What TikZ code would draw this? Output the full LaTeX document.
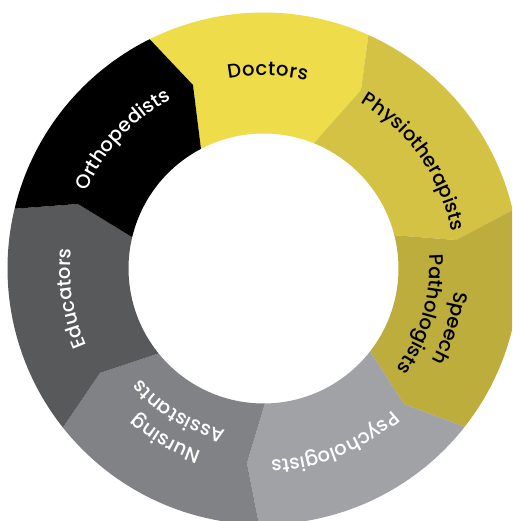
\documentclass[tikz,border=0pt]{standalone}
\usepackage{fontspec}
\newfontfamily\lblfam{Poppins Medium}
\usetikzlibrary{decorations.text}
\definecolor{cDoc}{HTML}{EEDC4B}
\definecolor{cPhy}{HTML}{D4C244}
\definecolor{cSpe}{HTML}{BCAD3D}
\definecolor{cPsy}{HTML}{A1A2A5}
\definecolor{cNur}{HTML}{808285}
\definecolor{cEdu}{HTML}{58595B}
\definecolor{cOrt}{HTML}{000000}
\newcommand\lblfont{\lblfam\fontsize{19.5}{20}\selectfont}
\begin{document}
\begin{tikzpicture}[x=1pt,y=1pt,
  seg/.style={draw=none},
  lbl/.style={decorate, decoration={text along path, text align=fit to path, text={|\lblfont|#1}}},
  lblw/.style={decorate, decoration={text along path, text align=fit to path, text={|\lblfont\color{white}|#1}}}]
\useasboundingbox (-263.5,-252.5) rectangle (248.5,268.5);
\fill[white] (-263.5,-252.5) rectangle (248.5,268.5);
\clip (-263.5,-252.5) rectangle (248.5,268.5);
% kinks
\coordinate (K1) at (-70.5,183.5);
\coordinate (K2) at (97.5,178.5);
\coordinate (K3) at (192.5,28.5);
\coordinate (K4) at (140.5,-135.5);
\coordinate (K5) at (-16.5,-194.5);
\coordinate (K6) at (-163.5,-104.5);
\coordinate (K7) at (-185.5,64.5);
% segments
\fill[seg, cDoc] (68.1:135pt) -- (K2) -- (65.8:256pt) arc[start angle=65.8, end angle=116.4, radius=256pt] -- (K1) -- (117.6:135pt) arc[start angle=117.6, end angle=68.1, radius=135pt] -- cycle;
\fill[seg, cPhy] (14.3:135pt) -- (K3) -- (13.2:256pt) arc[start angle=13.2, end angle=65.8, radius=256pt] -- (K2) -- (68.1:135pt) arc[start angle=68.1, end angle=14.3, radius=135pt] -- cycle;
\fill[seg, cSpe] (-37.8:135pt) -- (K4) -- (-38.2:256pt) arc[start angle=-38.2, end angle=13.2, radius=256pt] -- (K3) -- (14.3:135pt) arc[start angle=14.3, end angle=-37.8, radius=135pt] -- cycle;
\fill[seg, cPsy] (-89.4:135pt) -- (K5) -- (-91:256pt) arc[start angle=-91, end angle=-38.2, radius=256pt] -- (K4) -- (-37.8:135pt) arc[start angle=-37.8, end angle=-89.4, radius=135pt] -- cycle;
\fill[seg, cNur] (-141:135pt) -- (K6) -- (-141.6:256pt) arc[start angle=-141.6, end angle=-91, radius=256pt] -- (K5) -- (-89.4:135pt) arc[start angle=-89.4, end angle=-141, radius=135pt] -- cycle;
\fill[seg, cEdu] (-193.4:135pt) -- (K7) -- (-193.5:256pt) arc[start angle=-193.5, end angle=-141.6, radius=256pt] -- (K6) -- (-141:135pt) arc[start angle=-141, end angle=-193.4, radius=135pt] -- cycle;
\fill[seg, cOrt] (117.6:135pt) -- (K1) -- (116.4:256pt) arc[start angle=116.4, end angle=166.5, radius=256pt] -- (K7) -- (166.6:135pt) arc[start angle=166.6, end angle=117.6, radius=135pt] -- cycle;
% labels
\path[lbl=Doctors] (100.5:193pt) arc[start angle=100.5, end angle=77, radius=193pt];
\path[lbl=Physiotherapists] (59.5:192pt) arc[start angle=59.5, end angle=12.4, radius=192pt];
\path[lbl=Speech] (-6.8:192pt) arc[start angle=-6.8, end angle=-27, radius=192pt];
\path[lbl=Pathologists] (4.8:166pt) arc[start angle=4.8, end angle=-36, radius=166pt];
\path[lblw=Psychologists] (-47.7:192pt) arc[start angle=-47.7, end angle=-87.6, radius=192pt];
\path[lblw=Nursing] (-108.7:193pt) arc[start angle=-108.7, end angle=-130.5, radius=193pt];
\path[lblw=Assistants] (-103.3:166pt) arc[start angle=-103.3, end angle=-136.5, radius=166pt];
\path[lblw=Educators] (-156.5:193pt) arc[start angle=-156.5, end angle=-185.7, radius=193pt];
\path[lblw=Orthopedists] (156.5:193pt) arc[start angle=156.5, end angle=118.5, radius=193pt];
\end{tikzpicture}
\end{document}
